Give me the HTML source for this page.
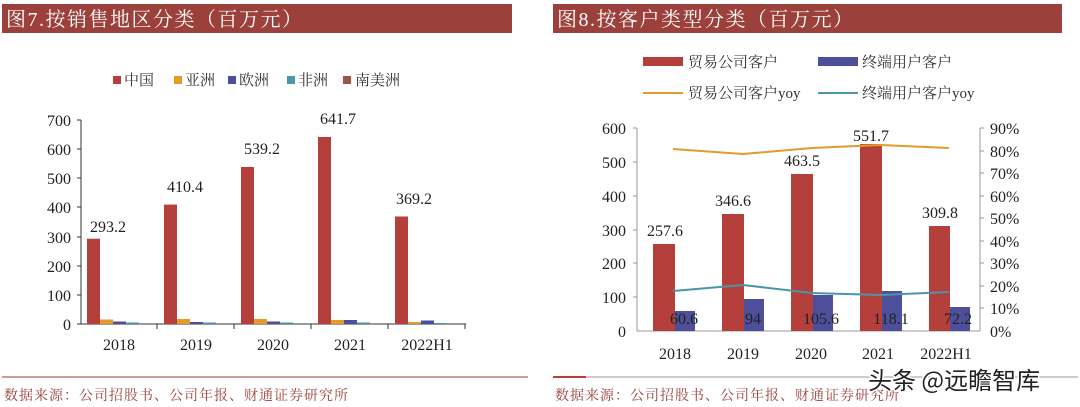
<!DOCTYPE html>
<html><head><meta charset="utf-8"><style>
html,body{margin:0;padding:0;background:#fff;}
svg{display:block;font-family:"Liberation Serif","Noto Serif CJK SC",serif;}
</style></head><body>
<svg width="1080" height="407" viewBox="0 0 1080 407" xmlns="http://www.w3.org/2000/svg">
<!-- LEFT PANEL -->
<rect x="2" y="4" width="510" height="29" fill="#9b403a"/>
<text x="6" y="26" font-size="20" letter-spacing="1.5" fill="#fff">图7.按销售地区分类（百万元）</text>
<g font-size="15" fill="#333">
<rect x="113" y="76" width="8" height="8" fill="#b5403b"/><text x="124" y="85">中国</text>
<rect x="174" y="76" width="8" height="8" fill="#e39b2a"/><text x="185" y="85">亚洲</text>
<rect x="228" y="76" width="8" height="8" fill="#4d4f9a"/><text x="239" y="85">欧洲</text>
<rect x="287" y="76" width="8" height="8" fill="#4b95a8"/><text x="298" y="85">非洲</text>
<rect x="343" y="76" width="8" height="8" fill="#a0554c"/><text x="355" y="85">南美洲</text>
</g>
<line x1="81" y1="120" x2="81" y2="324" stroke="#333"/>
<line x1="81" y1="324" x2="466" y2="324" stroke="#333"/>
<g stroke="#333">
<line x1="77" y1="120" x2="81" y2="120"/><line x1="77" y1="149" x2="81" y2="149"/><line x1="77" y1="178" x2="81" y2="178"/><line x1="77" y1="207" x2="81" y2="207"/><line x1="77" y1="237" x2="81" y2="237"/><line x1="77" y1="266" x2="81" y2="266"/><line x1="77" y1="295" x2="81" y2="295"/><line x1="77" y1="324" x2="81" y2="324"/>
<line x1="157" y1="324" x2="157" y2="329"/><line x1="234" y1="324" x2="234" y2="329"/><line x1="311" y1="324" x2="311" y2="329"/><line x1="388" y1="324" x2="388" y2="329"/><line x1="465" y1="324" x2="465" y2="329"/>
</g>
<g font-size="16" fill="#222" text-anchor="end">
<text x="71" y="126">700</text><text x="71" y="155">600</text><text x="71" y="184">500</text><text x="71" y="213">400</text><text x="71" y="243">300</text><text x="71" y="272">200</text><text x="71" y="301">100</text><text x="71" y="330">0</text>
</g>
<g font-size="16" fill="#222" text-anchor="middle">
<text x="119" y="350">2018</text><text x="196" y="350">2019</text><text x="273" y="350">2020</text><text x="350" y="350">2021</text><text x="427" y="350">2022H1</text>
</g>
<g fill="#b5403b">
<rect x="87" y="238.7" width="13" height="85.3"/>
<rect x="164" y="204.6" width="13" height="119.4"/>
<rect x="241" y="167" width="13" height="157"/>
<rect x="318" y="137" width="13" height="187"/>
<rect x="395" y="216.5" width="13" height="107.5"/>
</g>
<g fill="#e39b2a">
<rect x="100" y="319.5" width="13" height="4.5"/><rect x="177" y="319" width="13" height="5"/><rect x="254" y="319" width="13" height="5"/><rect x="331" y="320" width="13" height="4"/><rect x="408" y="322" width="13" height="2"/>
</g>
<g fill="#4d4f9a">
<rect x="113" y="321.5" width="13" height="2.5"/><rect x="190" y="322" width="13" height="2"/><rect x="267" y="321.5" width="13" height="2.5"/><rect x="344" y="320" width="13" height="4"/><rect x="421" y="320.5" width="13" height="3.5"/>
</g>
<g fill="#4b95a8">
<rect x="126" y="322.5" width="13" height="1.5"/><rect x="203" y="322.5" width="13" height="1.5"/><rect x="280" y="322.5" width="13" height="1.5"/><rect x="357" y="322.5" width="13" height="1.5"/><rect x="434" y="323" width="13" height="1"/>
</g>
<g font-size="16" fill="#222" text-anchor="middle">
<text x="108" y="232">293.2</text><text x="185" y="192">410.4</text><text x="262" y="154">539.2</text><text x="338" y="124">641.7</text><text x="414" y="204">369.2</text>
</g>
<line x1="2" y1="377" x2="528" y2="377" stroke="#c07a7a" stroke-width="1.5"/>
<text x="4" y="400" font-size="14" letter-spacing="1" fill="#9b403a">数据来源：公司招股书、公司年报、财通证券研究所</text>

<!-- RIGHT PANEL -->
<rect x="553" y="4" width="509" height="29" fill="#9b403a"/>
<text x="557" y="26" font-size="20" letter-spacing="1.5" fill="#fff">图8.按客户类型分类（百万元）</text>
<g font-size="15" fill="#333">
<rect x="643" y="57" width="40" height="9" fill="#b5403b"/><text x="688" y="67">贸易公司客户</text>
<rect x="818" y="57" width="40" height="9" fill="#4d4f9a"/><text x="862" y="67">终端用户客户</text>
<line x1="643" y1="93" x2="683" y2="93" stroke="#e39b2a" stroke-width="2"/><text x="688" y="98">贸易公司客户yoy</text>
<line x1="818" y1="93" x2="858" y2="93" stroke="#4b95a8" stroke-width="2"/><text x="862" y="98">终端用户客户yoy</text>
</g>
<line x1="637" y1="128" x2="637" y2="331" stroke="#999"/>
<line x1="980" y1="128" x2="980" y2="331" stroke="#999"/>
<line x1="637" y1="331" x2="980" y2="331" stroke="#999"/>
<g stroke="#999">
<line x1="633" y1="128" x2="637" y2="128"/><line x1="633" y1="162" x2="637" y2="162"/><line x1="633" y1="196" x2="637" y2="196"/><line x1="633" y1="230" x2="637" y2="230"/><line x1="633" y1="263" x2="637" y2="263"/><line x1="633" y1="297" x2="637" y2="297"/>
<line x1="980" y1="128" x2="984" y2="128"/><line x1="980" y1="151" x2="984" y2="151"/><line x1="980" y1="173" x2="984" y2="173"/><line x1="980" y1="196" x2="984" y2="196"/><line x1="980" y1="218" x2="984" y2="218"/><line x1="980" y1="241" x2="984" y2="241"/><line x1="980" y1="263" x2="984" y2="263"/><line x1="980" y1="286" x2="984" y2="286"/><line x1="980" y1="308" x2="984" y2="308"/>
</g>
<g font-size="16" fill="#222" text-anchor="end">
<text x="626" y="134">600</text><text x="626" y="168">500</text><text x="626" y="202">400</text><text x="626" y="236">300</text><text x="626" y="269">200</text><text x="626" y="303">100</text><text x="626" y="337">0</text>
</g>
<g font-size="16" fill="#222">
<text x="990" y="134">90%</text><text x="990" y="157">80%</text><text x="990" y="179">70%</text><text x="990" y="202">60%</text><text x="990" y="224">50%</text><text x="990" y="247">40%</text><text x="990" y="269">30%</text><text x="990" y="292">20%</text><text x="990" y="314">10%</text><text x="990" y="337">0%</text>
</g>
<g font-size="16" fill="#222" text-anchor="middle">
<text x="675" y="359">2018</text><text x="743" y="359">2019</text><text x="811" y="359">2020</text><text x="878" y="359">2021</text><text x="946" y="359">2022H1</text>
</g>
<g fill="#b5403b">
<rect x="653" y="244" width="22" height="87"/>
<rect x="722" y="214" width="22" height="117"/>
<rect x="791" y="174" width="22" height="157"/>
<rect x="860" y="144" width="22" height="187"/>
<rect x="929" y="226" width="21" height="105"/>
</g>
<g fill="#4d4f9a">
<rect x="675" y="311" width="20" height="20"/>
<rect x="744" y="299" width="20" height="32"/>
<rect x="813" y="295" width="20" height="36"/>
<rect x="882" y="291" width="20" height="40"/>
<rect x="950" y="307" width="20" height="24"/>
</g>
<polyline points="673,149 743,154 812,148 880,145 949,148" fill="none" stroke="#e39b2a" stroke-width="2"/>
<polyline points="673,291 743,285 812,293 880,295 949,292" fill="none" stroke="#4b95a8" stroke-width="2"/>
<g font-size="16" fill="#222" text-anchor="middle">
<text x="665" y="236">257.6</text><text x="733" y="206">346.6</text><text x="802" y="166">463.5</text><text x="871" y="141">551.7</text><text x="940" y="218">309.8</text>
<text x="684" y="324">60.6</text><text x="753" y="324">94</text><text x="821" y="324">105.6</text><text x="891" y="324">118.1</text><text x="958" y="324">72.2</text>
</g>
<line x1="553" y1="377" x2="1078" y2="377" stroke="#999" stroke-width="1"/>
<line x1="553" y1="377" x2="586" y2="377" stroke="#b5403b" stroke-width="2"/>
<text x="555" y="400" font-size="14" letter-spacing="1" fill="#9b403a">数据来源：公司招股书、公司年报、财通证券研究所</text>
<text x="868" y="389" font-size="24" fill="#222" stroke="#fff" stroke-width="3" paint-order="stroke" font-family="'Noto Sans CJK SC',sans-serif">头条 @远瞻智库</text>
</svg>
</body></html>
